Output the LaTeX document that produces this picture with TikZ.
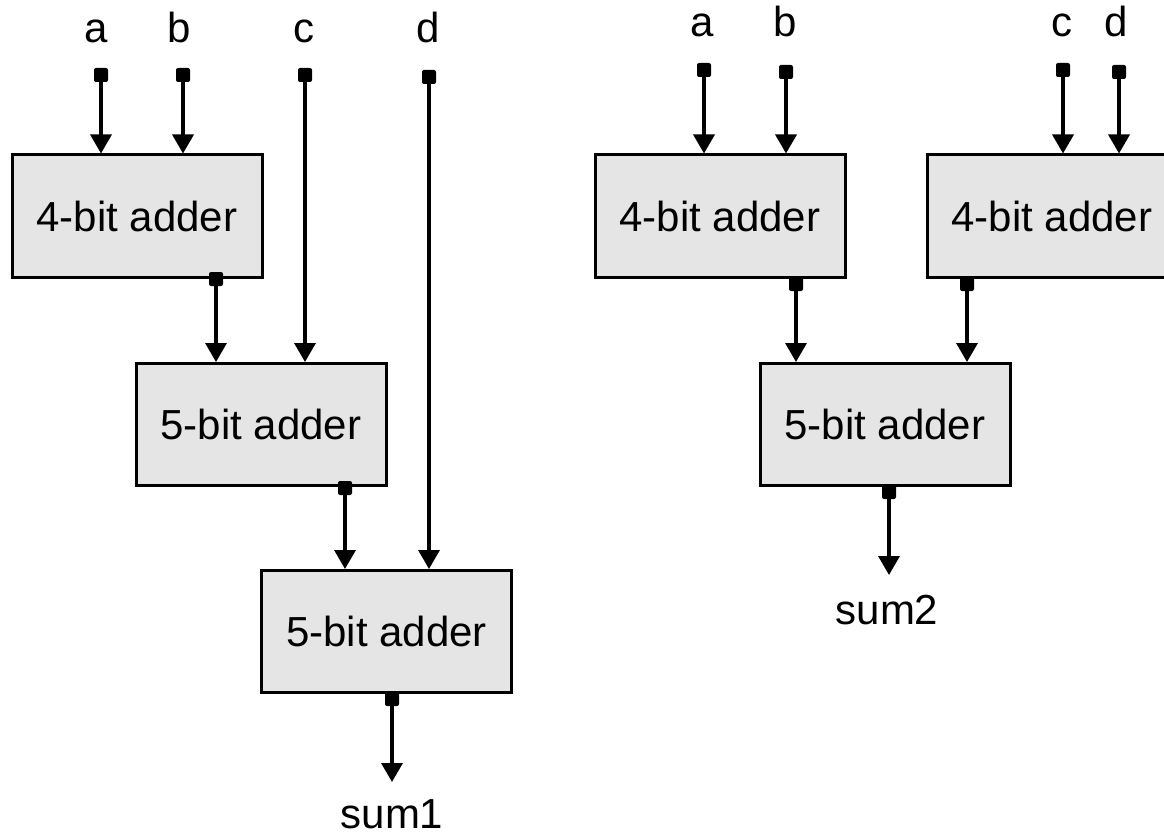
\documentclass[tikz,border=0pt]{standalone}
\usepackage{fontspec}
\setmainfont{Liberation Sans}
\usetikzlibrary{arrows.meta}

\tikzset{
  adder/.style={draw=black, line width=3pt, fill=gray!20, minimum width=250pt,
    minimum height=122pt, inner sep=0pt, font=\fontsize{42}{50}\selectfont},
  port/.style={fill=black, minimum size=14pt, inner sep=0pt, rounded corners=2pt},
  wire/.style={line width=3.4pt, -{Triangle[width=21pt,length=19pt]}},
  lbl/.style={font=\fontsize{42}{50}\selectfont, anchor=base, inner sep=0pt}
}

\begin{document}
\begin{tikzpicture}[x=1pt, y=-1pt]
\useasboundingbox (0,0) rectangle (1164,837);

% ---------- chained adders ----------
\node[lbl] (la) at (96,43) {a};
\node[lbl] (lb) at (179,43) {b};
\node[lbl] (lc) at (304,43) {c};
\node[lbl] (ld) at (428,43) {d};

\node[adder] (A1) at (137,216) {4-bit adder};
\node[adder] (A2) at (261,424.5) {5-bit adder};
\node[adder] (A3) at (386.5,631.5) {5-bit adder};

\node[port] (pa) at (101,75) {};
\node[port] (pb) at (183,75) {};
\node[port] (pc) at (305,75) {};
\node[port] (pd) at (429,77) {};
\node[port] (o1) at (216,279) {};
\node[port] (o2) at (345,488) {};
\node[port] (o3) at (392,699) {};
\coordinate (s1tip) at (392,782);
\node[lbl] (sum1) at (392,828) {sum1};

\draw[wire] (pa.center) -- (pa.center |- A1.north);
\draw[wire] (pb.center) -- (pb.center |- A1.north);
\draw[wire] (o1.center) -- (o1.center |- A2.north);
\draw[wire] (pc.center) -- (pc.center |- A2.north);
\draw[wire] (o2.center) -- (o2.center |- A3.north);
\draw[wire] (pd.center) -- (pd.center |- A3.north);
\draw[wire] (o3.center) -- (s1tip);

% ---------- balanced tree ----------
\node[lbl] (ra) at (702,37) {a};
\node[lbl] (rb) at (785,37) {b};
\node[lbl] (rc) at (1062,37) {c};
\node[lbl] (rd) at (1116,37) {d};

\node[adder] (B1) at (720,216) {4-bit adder};
\node[adder] (B2) at (1052,216) {4-bit adder};
\node[adder] (B3) at (885,424.5) {5-bit adder};

\node[port] (qa) at (704,70) {};
\node[port] (qb) at (786,72) {};
\node[port] (qc) at (1063,70) {};
\node[port] (qd) at (1119,72) {};
\node[port] (r1) at (796,284) {};
\node[port] (r2) at (967,284) {};
\node[port] (r3) at (889,492) {};
\coordinate (s2tip) at (889,575);
\node[lbl] (sum2) at (887,624) {sum2};

\draw[wire] (qa.center) -- (qa.center |- B1.north);
\draw[wire] (qb.center) -- (qb.center |- B1.north);
\draw[wire] (qc.center) -- (qc.center |- B2.north);
\draw[wire] (qd.center) -- (qd.center |- B2.north);
\draw[wire] (r1.center) -- (r1.center |- B3.north);
\draw[wire] (r2.center) -- (r2.center |- B3.north);
\draw[wire] (r3.center) -- (s2tip);
\end{tikzpicture}
\end{document}
